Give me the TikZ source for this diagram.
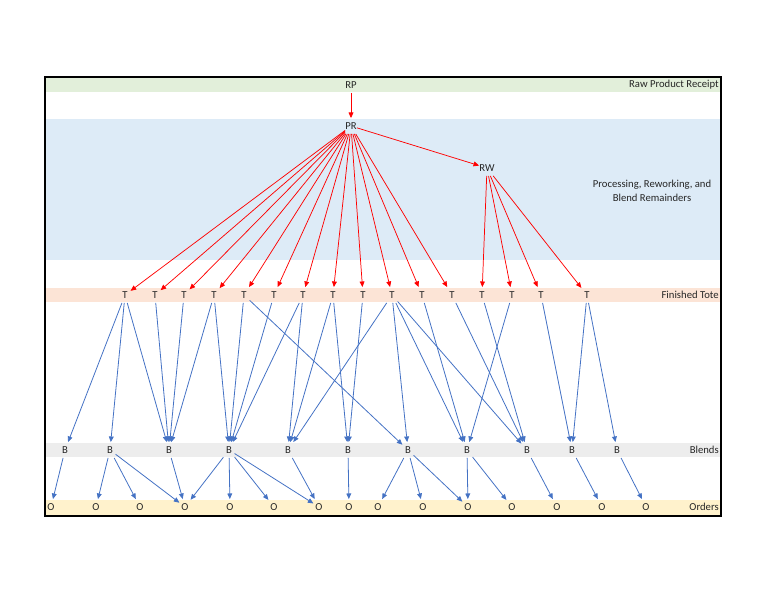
\documentclass[tikz,border=0pt]{standalone}
\usepackage{fontspec}
\setmainfont{Carlito}
\usetikzlibrary{arrows.meta}
\definecolor{bandgreen}{HTML}{E2EFDA}
\definecolor{bandblue}{HTML}{DDEBF7}
\definecolor{bandorange}{HTML}{FCE4D6}
\definecolor{bandgray}{HTML}{EDEDED}
\definecolor{bandyellow}{HTML}{FFF2CC}
\definecolor{edgeblue}{HTML}{4472C4}
\definecolor{txt}{HTML}{262626}
\begin{document}
\begin{tikzpicture}[x=0.75pt,y=-0.75pt,
  lv/.style={font=\fontsize{8}{9.6}\selectfont, text=txt, inner sep=0pt, minimum width=8pt, minimum height=11.5pt},
  lbl/.style={font=\fontsize{8}{9.6}\selectfont, text=txt, anchor=east, inner sep=0pt},
  redarr/.style={draw=red, line width=0.55pt, -{Triangle[length=4.2pt,width=3.6pt]}},
  bluearr/.style={draw=edgeblue, line width=0.6pt, -{Triangle[length=4.2pt,width=3.6pt]}},
]
\useasboundingbox (0,0) rectangle (768,594);
% bands
\fill[bandgreen]  (46,78)  rectangle (720,92);
\fill[bandblue]   (46,119) rectangle (720,260);
\fill[bandorange] (46,288) rectangle (720,302);
\fill[bandgray]   (46,443) rectangle (720,457);
\fill[bandyellow] (46,500) rectangle (720,515);
\draw[line width=1.4pt] (45,77) rectangle (721,516);
% labels
\node[lbl] (lraw) at (719,85) {Raw Product Receipt};
\node[lbl] (ltote) at (719,295) {Finished Tote};
\node[lbl] (lblend) at (719,450) {Blends};
\node[lbl] (lord) at (719,507) {Orders};
\node[font=\fontsize{8}{10.5}\selectfont, text=txt, align=center, inner sep=0pt] (lproc) at (652,191) {Processing, Reworking, and\\Blend Remainders};
% top nodes
\node[lv] (rp) at (351,85) {RP};
\node[lv] (pr) at (351,126) {PR};
\node[lv] (rw) at (487,168) {RW};
% rows
\foreach \x [count=\i] in {125,155,184,214,244,274,303,333,363,392,422,452,482,512,541,587}
  \node[lv] (t\i) at (\x,295) {T};
\foreach \x [count=\i] in {65,110,169,229,288,348,408,467,527,572,617}
  \node[lv] (b\i) at (\x,450) {B};
\foreach \x [count=\i] in {51,96,140,185,230,274,319,349,378,423,468,512,557,602,646}
  \node[lv] (o\i) at (\x,507) {O};
% red edges
\draw[redarr] (rp) -- (pr);
\draw[redarr] (pr) -- (rw);
\foreach \i in {1,...,12} \draw[redarr] (pr) -- (t\i);
\foreach \i in {13,...,16} \draw[redarr] (rw) -- (t\i);
% T -> B
\foreach \s/\d in {1/1,1/2,1/3,2/3,3/3,4/3,4/4,5/4,5/7,6/4,7/4,7/5,8/5,8/6,9/6,
                   10/5,10/7,10/8,10/9,11/8,12/9,13/9,14/8,15/10,16/10,16/11}
  \draw[bluearr] (t\s) -- (b\d);
% B -> O
\foreach \s/\d in {1/1,2/2,2/3,2/4,3/4,4/4,4/5,4/6,4/7,5/7,6/8,7/9,7/10,7/11,8/11,8/12,9/13,10/14,11/15}
  \draw[bluearr] (b\s) -- (o\d);
\end{tikzpicture}
\end{document}
